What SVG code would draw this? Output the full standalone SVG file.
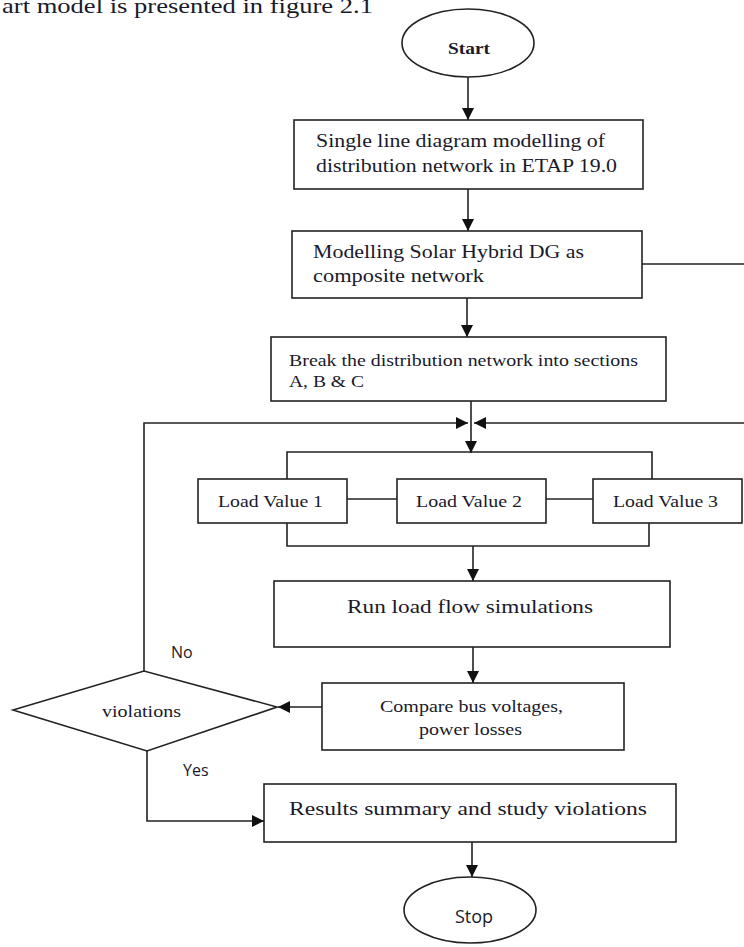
<svg xmlns="http://www.w3.org/2000/svg" width="744" height="947" viewBox="0 0 744 947">
<defs>
<marker id="ah" viewBox="0 0 12 12" refX="12" refY="6" markerWidth="12" markerHeight="12" markerUnits="userSpaceOnUse" orient="auto">
<path d="M0 0 L12 6 L0 12 Z" fill="#111"/>
</marker>
</defs>
<style>
.box{fill:#fff;stroke:#222;stroke-width:1.6}
.ln{fill:none;stroke:#222;stroke-width:1.6}
.arr{fill:none;stroke:#222;stroke-width:1.6;marker-end:url(#ah)}
.t{font-family:"Liberation Serif","Times New Roman",serif;fill:#1a1a2a}
.s{font-family:"Open Sans","Liberation Sans",Arial,sans-serif;fill:#1a1a2a}
</style>
<rect width="744" height="947" fill="#fff"/>
<text class="t" x="2" y="13" font-size="22" textLength="371" lengthAdjust="spacingAndGlyphs">art model is presented in figure 2.1</text>

<g id="connectors">
<line class="arr" x1="468" y1="77" x2="468" y2="120"/>
<line class="arr" x1="468" y1="189" x2="468" y2="231"/>
<line class="arr" x1="467" y1="298" x2="467" y2="337"/>
<line class="arr" x1="471" y1="401" x2="471" y2="453"/>
<path class="arr" d="M144 671 V423 H468"/>
<path class="arr" d="M642 264 H748 V423 H474"/>
<path class="ln" d="M287 479 V452 H652 V479"/>
<path class="ln" d="M287 523 V546 H649 V523"/>
<line class="ln" x1="347" y1="499" x2="397" y2="499"/>
<line class="ln" x1="546" y1="499" x2="593" y2="499"/>
<line class="arr" x1="473" y1="546" x2="473" y2="581"/>
<line class="arr" x1="473" y1="647" x2="473" y2="683"/>
<line class="arr" x1="322" y1="707" x2="278" y2="707"/>
<path class="arr" d="M147 751 V821 H264"/>
<line class="arr" x1="472" y1="842" x2="472" y2="877"/>
</g>

<g id="start">
<ellipse class="box" cx="468" cy="43" rx="66" ry="34"/>
<text class="t" x="469" y="54" font-size="17" font-weight="bold" text-anchor="middle" textLength="42" lengthAdjust="spacingAndGlyphs">Start</text>
</g>

<g id="single-line">
<rect class="box" x="294" y="120" width="349" height="69"/>
<text class="t" x="316" y="147" font-size="19" textLength="289" lengthAdjust="spacingAndGlyphs">Single line diagram modelling of</text>
<text class="t" x="316" y="172" font-size="19" textLength="301" lengthAdjust="spacingAndGlyphs">distribution network in ETAP 19.0</text>
</g>

<g id="solar-hybrid">
<rect class="box" x="292" y="231" width="350" height="67"/>
<text class="t" x="313" y="258" font-size="19" textLength="271" lengthAdjust="spacingAndGlyphs">Modelling Solar Hybrid DG as</text>
<text class="t" x="313" y="282" font-size="19" textLength="171" lengthAdjust="spacingAndGlyphs">composite network</text>
</g>

<g id="break-sections">
<rect class="box" x="271" y="337" width="395" height="64"/>
<text class="t" x="289" y="366" font-size="17" textLength="349" lengthAdjust="spacingAndGlyphs">Break the distribution network into sections</text>
<text class="t" x="289" y="387" font-size="17" textLength="75" lengthAdjust="spacingAndGlyphs">A, B &amp; C</text>
</g>

<g id="load-value-1">
<rect class="box" x="198" y="479" width="149" height="44"/>
<text class="t" x="218" y="507" font-size="17" textLength="105" lengthAdjust="spacingAndGlyphs">Load Value 1</text>
</g>

<g id="load-value-2">
<rect class="box" x="397" y="479" width="149" height="44"/>
<text class="t" x="416" y="507" font-size="17" textLength="106" lengthAdjust="spacingAndGlyphs">Load Value 2</text>
</g>

<g id="load-value-3">
<rect class="box" x="593" y="479" width="149" height="44"/>
<text class="t" x="613" y="507" font-size="17" textLength="105" lengthAdjust="spacingAndGlyphs">Load Value 3</text>
</g>

<g id="run-load-flow">
<rect class="box" x="274" y="581" width="396" height="66"/>
<text class="t" x="347" y="613" font-size="19" textLength="246" lengthAdjust="spacingAndGlyphs">Run load flow simulations</text>
</g>

<g id="compare">
<rect class="box" x="322" y="683" width="302" height="67"/>
<text class="t" x="380" y="712" font-size="17" textLength="183" lengthAdjust="spacingAndGlyphs">Compare bus voltages,</text>
<text class="t" x="419" y="735" font-size="17" textLength="103" lengthAdjust="spacingAndGlyphs">power losses</text>
</g>

<g id="violations">
<polygon class="box" points="13,710 144,671 277,707 147,751"/>
<text class="t" x="102" y="717" font-size="17" textLength="79" lengthAdjust="spacingAndGlyphs">violations</text>
<text class="s" x="171" y="658" font-size="16">No</text>
<text class="s" x="183" y="776" font-size="16">Yes</text>
</g>

<g id="results">
<rect class="box" x="264" y="784" width="412" height="58"/>
<text class="t" x="289" y="815" font-size="19" textLength="358" lengthAdjust="spacingAndGlyphs">Results summary and study violations</text>
</g>

<g id="stop">
<ellipse class="box" cx="470" cy="910" rx="66" ry="33"/>
<text class="s" x="474" y="923" font-size="18" text-anchor="middle">Stop</text>
</g>
</svg>
